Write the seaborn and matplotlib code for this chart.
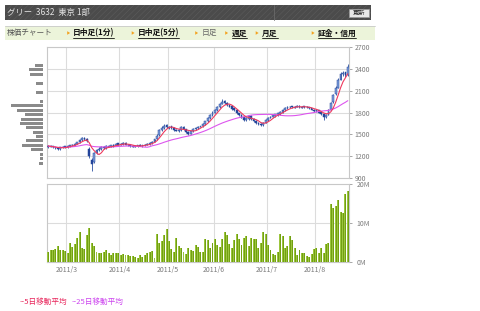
import numpy as np
import pandas as pd
import matplotlib
matplotlib.use("Agg")
import matplotlib.pyplot as plt
import seaborn as sns
from matplotlib.patches import Rectangle, Polygon

sns.set_theme(style="white")
plt.rcParams['font.family'] = ['Noto Sans CJK JP', 'DejaVu Sans']

# ---------------- data ----------------
open_ = [1330, 1345, 1335, 1320, 1315, 1300, 1320, 1335, 1320, 1340,
         1350, 1360, 1370, 1390, 1420, 1450, 1440, 1300, 1150, 1120,
         1240, 1280, 1300, 1325, 1310, 1345, 1330, 1355, 1340, 1375,
         1360, 1370, 1385, 1360, 1355, 1345, 1330, 1340, 1355, 1340,
         1350, 1360, 1370, 1380, 1400, 1430, 1490, 1560, 1590, 1625,
         1590, 1610, 1590, 1565, 1545, 1560, 1605, 1570, 1535, 1510,
         1540, 1575, 1590, 1605, 1610, 1640, 1680, 1720, 1760, 1800,
         1830, 1870, 1920, 1960, 1935, 1900, 1885, 1855, 1830, 1790,
         1765, 1735, 1700, 1715, 1755, 1715, 1685, 1655, 1645, 1630,
         1660, 1700, 1730, 1745, 1750, 1760, 1780, 1800, 1830, 1860,
         1870, 1885, 1865, 1880, 1895, 1865, 1885, 1880, 1870, 1860,
         1840, 1815, 1830, 1805, 1780, 1740, 1770, 1840, 1940, 2050,
         2140, 2250, 2330, 2350, 2320]
high = [1355, 1360, 1345, 1330, 1325, 1330, 1340, 1345, 1350, 1360,
        1370, 1380, 1400, 1430, 1465, 1470, 1450, 1320, 1180, 1260,
        1300, 1320, 1335, 1340, 1350, 1355, 1360, 1365, 1385, 1385,
        1385, 1395, 1395, 1370, 1365, 1355, 1350, 1360, 1365, 1360,
        1370, 1380, 1390, 1410, 1440, 1500, 1580, 1610, 1640, 1640,
        1620, 1620, 1600, 1575, 1570, 1615, 1615, 1580, 1545, 1550,
        1590, 1600, 1610, 1620, 1650, 1690, 1735, 1775, 1815, 1845,
        1885, 1935, 1980, 1975, 1945, 1915, 1895, 1865, 1840, 1800,
        1775, 1745, 1735, 1770, 1765, 1725, 1695, 1665, 1655, 1675,
        1715, 1745, 1755, 1760, 1775, 1790, 1815, 1845, 1875, 1885,
        1895, 1895, 1895, 1905, 1900, 1890, 1895, 1890, 1880, 1865,
        1850, 1845, 1840, 1810, 1790, 1785, 1845, 1950, 2060, 2160,
        2270, 2350, 2370, 2360, 2460]
low = [1315, 1320, 1310, 1300, 1290, 1290, 1310, 1310, 1310, 1330,
       1340, 1350, 1365, 1385, 1410, 1425, 1400, 1180, 1000, 1100,
       1230, 1270, 1290, 1300, 1300, 1320, 1320, 1330, 1335, 1350,
       1355, 1360, 1350, 1340, 1330, 1320, 1320, 1330, 1335, 1330,
       1340, 1350, 1360, 1370, 1390, 1420, 1480, 1550, 1575, 1590,
       1580, 1580, 1550, 1540, 1535, 1550, 1560, 1520, 1495, 1500,
       1530, 1565, 1580, 1595, 1600, 1630, 1670, 1710, 1750, 1790,
       1820, 1860, 1910, 1920, 1890, 1870, 1840, 1820, 1780, 1750,
       1720, 1690, 1690, 1700, 1700, 1670, 1640, 1625, 1615, 1620,
       1650, 1690, 1720, 1735, 1740, 1750, 1770, 1790, 1820, 1850,
       1860, 1860, 1860, 1870, 1860, 1860, 1865, 1860, 1850, 1830,
       1810, 1810, 1790, 1770, 1700, 1730, 1760, 1830, 1930, 2040,
       2130, 2240, 2300, 2290, 2300]
close = [1340, 1330, 1320, 1310, 1300, 1320, 1330, 1320, 1340, 1350,
         1360, 1370, 1390, 1420, 1450, 1440, 1410, 1200, 1090, 1240,
         1280, 1300, 1320, 1310, 1340, 1330, 1350, 1340, 1370, 1360,
         1370, 1380, 1360, 1350, 1340, 1330, 1340, 1350, 1340, 1350,
         1360, 1370, 1380, 1400, 1430, 1480, 1560, 1590, 1620, 1600,
         1600, 1590, 1560, 1550, 1560, 1600, 1570, 1530, 1510, 1540,
         1580, 1590, 1600, 1610, 1640, 1680, 1720, 1760, 1800, 1830,
         1870, 1920, 1950, 1930, 1900, 1880, 1850, 1830, 1790, 1760,
         1730, 1700, 1720, 1750, 1710, 1680, 1650, 1640, 1630, 1660,
         1700, 1730, 1740, 1760, 1780, 1800, 1810, 1830, 1860, 1870,
         1880, 1870, 1880, 1890, 1870, 1880, 1875, 1870, 1860, 1840,
         1820, 1830, 1800, 1780, 1740, 1770, 1830, 1930, 2040, 2140,
         2250, 2330, 2340, 2320, 2420]
volume_m = [2.5, 3.0, 3.0, 3.3, 4.1, 3.2, 3.1, 2.8, 2.3, 4.8,
            3.8, 4.6, 6.2, 7.7, 3.5, 3.3, 6.8, 8.6, 4.8, 4.1,
            2.6, 2.3, 2.3, 2.5, 3.0, 2.3, 1.8, 2.3, 2.3, 2.3,
            1.8, 2.0, 1.8, 1.7, 1.5, 1.5, 1.3, 1.1, 1.7, 1.4,
            1.8, 2.2, 2.6, 2.9, 0.9, 7.2, 4.9, 5.4, 6.8, 8.5,
            5.3, 3.4, 2.5, 6.2, 4.1, 3.7, 2.5, 2.1, 3.5, 3.0,
            2.8, 4.3, 3.8, 2.6, 2.5, 6.0, 5.6, 3.6, 4.8, 6.0,
            4.3, 3.9, 5.8, 7.6, 6.9, 4.7,
            3.7, 5.6, 7.3, 5.9, 4.4, 6.2, 6.7, 4.2, 6.2, 5.8,
            5.8, 3.7, 4.8, 7.6, 7.1, 4.4, 3.0, 2.1, 1.8, 2.6,
            7.3, 6.6, 3.7, 4.1, 6.7, 5.6, 3.7, 1.8, 3.0, 2.3,
            2.2, 1.5, 1.4, 2.0, 3.3, 3.5, 2.2, 3.6, 2.4, 4.7,
            4.8, 14.8, 13.8, 14.4, 15.8, 12.8, 12.5, 17.4, 18.2]

vap_price = [2450, 2390, 2325, 2200, 2080, 1955, 1895, 1830, 1770, 1710,
             1650, 1590, 1530, 1470, 1410, 1350, 1290, 1225, 1165, 1100]
vap_volume = [8.3, 14.0, 13.3, 6.7, 6.7, 3.3, 32.3, 26.0, 18.3, 21.7,
              23.3, 16.7, 10.0, 6.7, 17.3, 20.7, 11.7, 2.7, 3.3, 4.0]

month_labels = ["2011/3", "2011/4", "2011/5", "2011/6", "2011/7", "2011/8"]
month_start_idx = [8, 30, 50, 69, 91, 111]
price_ticks = [900, 1200, 1500, 1800, 2100, 2400, 2700]
vol_ticks = [0, 10, 20]
vol_tick_labels = ["0M", "10M", "20M"]

title_text = "グリー  3632  東京 1部"
nav_items = ["日中足(1分)", "日中足(5分)", "日足", "週足", "月足", "証金・信用"]
legend_texts = ["--5日移動平均", "--25日移動平均"]

# ---------------- frame ----------------
df = pd.DataFrame({"i": np.arange(len(close)), "open": open_, "high": high,
                   "low": low, "close": close, "volume": volume_m})
df["ma5"] = df["close"].rolling(5, min_periods=1).mean()
df["ma25"] = df["close"].rolling(25, min_periods=1).mean()
vap = pd.DataFrame({"price": vap_price, "vol": vap_volume})

W, H = 480, 311
fig = plt.figure(figsize=(W / 100, H / 100), dpi=100)
fig.patch.set_facecolor("white")

def box(l, t, r, b):
    return [l / W, 1 - b / H, (r - l) / W, (b - t) / H]

ax_p = fig.add_axes(box(47, 47, 349, 178))
ax_v = fig.add_axes(box(47, 184, 349, 262))
ax_h = fig.add_axes(box(7, 47, 43, 178))

grid_c = "#dcdcdc"
spine_c = "#c8c8c8"
txt_c = "#7a7a7a"
vlines_x = [m - 0.5 for m in month_start_idx]

# price panel
for p in price_ticks:
    ax_p.axhline(p, color=grid_c, lw=0.8, zorder=0)
for x in vlines_x:
    ax_p.axvline(x, color=grid_c, lw=0.8, zorder=0)

up = df["close"] >= df["open"]
body_lo = np.minimum(df["open"], df["close"])
body_h = np.maximum(np.abs(df["close"] - df["open"]), 10)
ax_p.vlines(df["i"], df["low"], df["high"], color="#2a4fa0", lw=0.6, zorder=2)
ax_p.bar(df["i"], body_h, bottom=body_lo, width=0.72,
         color=np.where(up, "#7d9fdc", "#23449a"), edgecolor="#23449a",
         linewidth=0.35, zorder=3)
sns.lineplot(data=df, x="i", y="ma25", ax=ax_p, color="#dd55ee", lw=0.8, zorder=4)
sns.lineplot(data=df, x="i", y="ma5", ax=ax_p, color="#ee3a5e", lw=0.8, zorder=5)

ax_p.set_xlim(-0.5, len(df) - 0.5)
ax_p.set_ylim(900, 2700)
ax_p.set_xlabel("")
ax_p.set_ylabel("")
ax_p.set_xticks([])
ax_p.yaxis.tick_right()
ax_p.set_yticks(price_ticks)
ax_p.set_yticklabels([str(p) for p in price_ticks])
ax_p.tick_params(axis="y", which="both", right=True, length=2.5, width=0.6,
                 color="#999999", labelsize=5, labelcolor=txt_c, pad=1.5)

# volume panel
ax_v.axhline(10, color=grid_c, lw=0.8, zorder=0)
for x in vlines_x:
    ax_v.axvline(x, color=grid_c, lw=0.8, zorder=0)
ax_v.bar(df["i"], df["volume"], width=0.8, color="#9cc53e",
         linewidth=0, zorder=3)
ax_v.bar(df["i"] + 0.2, df["volume"], width=0.4, color="#72a012",
         linewidth=0, zorder=4)
ax_v.set_xlim(-0.5, len(df) - 0.5)
ax_v.set_ylim(0, 20)
ax_v.set_xlabel("")
ax_v.set_ylabel("")
ax_v.set_xticks(vlines_x)
ax_v.set_xticklabels(month_labels)
ax_v.yaxis.tick_right()
ax_v.set_yticks(vol_ticks)
ax_v.set_yticklabels(vol_tick_labels)
ax_v.tick_params(axis="y", right=True, length=2.5, width=0.6, color="#999999",
                 labelsize=5, labelcolor=txt_c, pad=3)
ax_v.tick_params(axis="x", bottom=False, length=0, labelsize=5,
                 labelcolor=txt_c, pad=3)

for ax in (ax_p, ax_v):
    ax.set_facecolor("white")
    for s in ax.spines.values():
        s.set_color(spine_c)
        s.set_linewidth(0.8)

# volume-at-price histogram
ax_h.barh(vap["price"], vap["vol"], height=40, color="#8a8a8a",
          linewidth=0, zorder=2)
ax_h.set_xlim(36, 0)
ax_h.set_ylim(900, 2700)
ax_h.axis("off")

# ---------------- header / nav / legend ----------------
ov = fig.add_axes([0, 0, 1, 1])
ov.set_xlim(0, W)
ov.set_ylim(H, 0)
ov.axis("off")

plt.rcParams['hatch.linewidth'] = 0.4
ov.add_patch(Rectangle((5, 5), 366, 15, facecolor="#4b4b4b",
                       edgecolor="#5c5c5c", hatch="//////", lw=0))
ov.plot([274, 274], [5, 20], color="#6a6a6a", lw=0.6)
ov.text(7, 12.6, title_text, color="#e2e2e2", fontsize=6, va="center", ha="left")
ov.add_patch(Rectangle((349, 9), 20, 8, facecolor="#e8e8e8", edgecolor="#9a9a9a", lw=0.5))
ov.text(359, 13.2, "更新", color="#222222", fontsize=4.5, va="center", ha="center")

ov.add_patch(Rectangle((5, 26), 370, 14, facecolor="#ecf4da", edgecolor="none"))
ov.plot([5, 375], [26.3, 26.3], color="#c9c9c9", lw=0.6)
ov.text(7, 33, "株価チャート", color="#555555", fontsize=5.5, va="center", ha="left")

arrow_x = [68.5, 133, 196.5, 226.5, 257, 313]
text_x = [73, 138, 201.5, 231.5, 262, 317.5]
active = [True, True, False, True, True, True]
nav_texts = []
for ax_, tx, lab, act in zip(arrow_x, text_x, nav_items, active):
    ov.add_patch(Polygon([[ax_ - 1.3, 31.2], [ax_ - 1.3, 34.8], [ax_ + 1.6, 33]],
                         closed=True, facecolor="#f3a21e", edgecolor="none"))
    t = ov.text(tx, 33, lab, fontsize=5.6, va="center", ha="left",
                color="#111111" if act else "#666666",
                fontweight="bold" if act else "normal")
    nav_texts.append((t, act))

ov.text(20, 302, legend_texts[0], color="#e8245a", fontsize=5.5, va="center", ha="left")
ov.text(72, 302, legend_texts[1], color="#cc44ee", fontsize=5.5, va="center", ha="left")

fig.canvas.draw()
r = fig.canvas.get_renderer()
inv = ov.transData.inverted()
for t, act in nav_texts:
    if not act:
        continue
    bb = t.get_window_extent(renderer=r)
    (x0, _), (x1, _) = inv.transform([[bb.x0, bb.y0], [bb.x1, bb.y1]])
    ov.plot([x0, x1], [37.6, 37.6], color="#111111", lw=0.6)

fig.savefig("out.png", dpi=100)
